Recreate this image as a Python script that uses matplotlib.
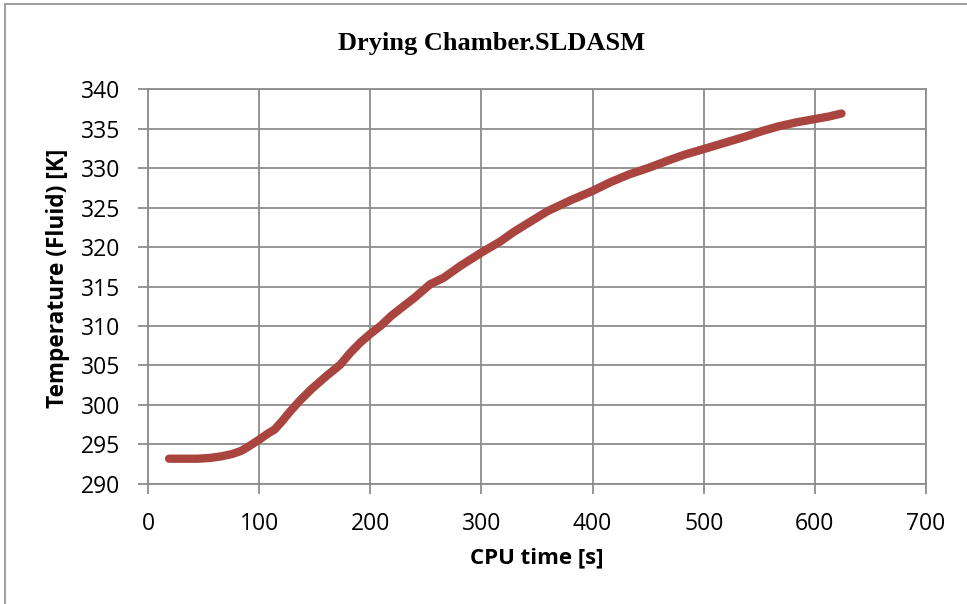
import matplotlib
matplotlib.use("Agg")
import matplotlib.pyplot as plt
from matplotlib.lines import Line2D

# CPU time [s] and fluid temperature [K]
cpu_time = [19, 30, 45, 56, 66, 76, 84, 90, 100, 107, 114, 121, 128, 137, 147,
            160, 173, 182, 191, 200, 210, 219, 229, 240, 254, 266, 281, 300,
            317, 329, 344, 359, 380, 400, 416, 433, 450, 467, 483, 500, 519,
            538, 553, 568, 584, 600, 612, 624]
temperature = [293.2, 293.2, 293.2, 293.3, 293.5, 293.8, 294.2, 294.7, 295.6,
               296.3, 296.9, 298.0, 299.2, 300.6, 302.0, 303.6, 305.1, 306.6,
               307.9, 309.0, 310.1, 311.3, 312.4, 313.6, 315.3, 316.1, 317.6,
               319.3, 320.7, 321.9, 323.2, 324.5, 325.9, 327.1, 328.2, 329.2,
               330.0, 330.9, 331.7, 332.4, 333.2, 334.0, 334.7, 335.3, 335.8,
               336.2, 336.5, 336.9]
x_ticks = [0, 100, 200, 300, 400, 500, 600, 700]
y_ticks = [290, 295, 300, 305, 310, 315, 320, 325, 330, 335, 340]

grid_col = "#8c8c8c"
line_col = "#A9443F"

fig = plt.figure(figsize=(9.67, 6.04), dpi=100)
ax = fig.add_axes([0.1530, 0.1987, 0.8046, 0.6539])

ax.plot(cpu_time, temperature, color=line_col, lw=6,
        solid_capstyle="round", solid_joinstyle="round")

ax.set_xlim(0, 700)
ax.set_ylim(290, 340)
ax.set_xticks(x_ticks)
ax.set_yticks(y_ticks)
ax.grid(True, color=grid_col, lw=1.3)
ax.set_axisbelow(True)
for s in ax.spines.values():
    s.set_color(grid_col)
    s.set_linewidth(1.3)
ax.tick_params(axis="both", length=7, width=1.3, color=grid_col,
               labelsize=16.5)
ax.tick_params(axis="x", pad=13)
ax.tick_params(axis="y", pad=13)
for lab in ax.get_xticklabels() + ax.get_yticklabels():
    lab.set_family("Open Sans")

ax.set_xlabel("CPU time [s]", family="Open Sans", fontweight="bold",
              fontsize=16, va="center")
ax.set_ylabel("Temperature (Fluid) [K]", family="Open Sans", fontweight="bold",
              fontsize=16.3, va="center")
ax.xaxis.set_label_coords(0.5, -0.187)
ax.yaxis.set_label_coords(-0.1157, 0.52)
fig.text(0.508, 0.928, "Drying Chamber.SLDASM", ha="center", va="center",
         family="Liberation Serif", fontweight="bold", fontsize=19)

# outer chart frame (top and left edges visible)
fig.add_artist(Line2D([5 / 967, 1], [1 - 4 / 604] * 2, color="#a0a0a0", lw=1.5))
fig.add_artist(Line2D([5 / 967] * 2, [0, 1 - 4 / 604], color="#a0a0a0", lw=1.5))

fig.savefig("out.png", dpi=100)
